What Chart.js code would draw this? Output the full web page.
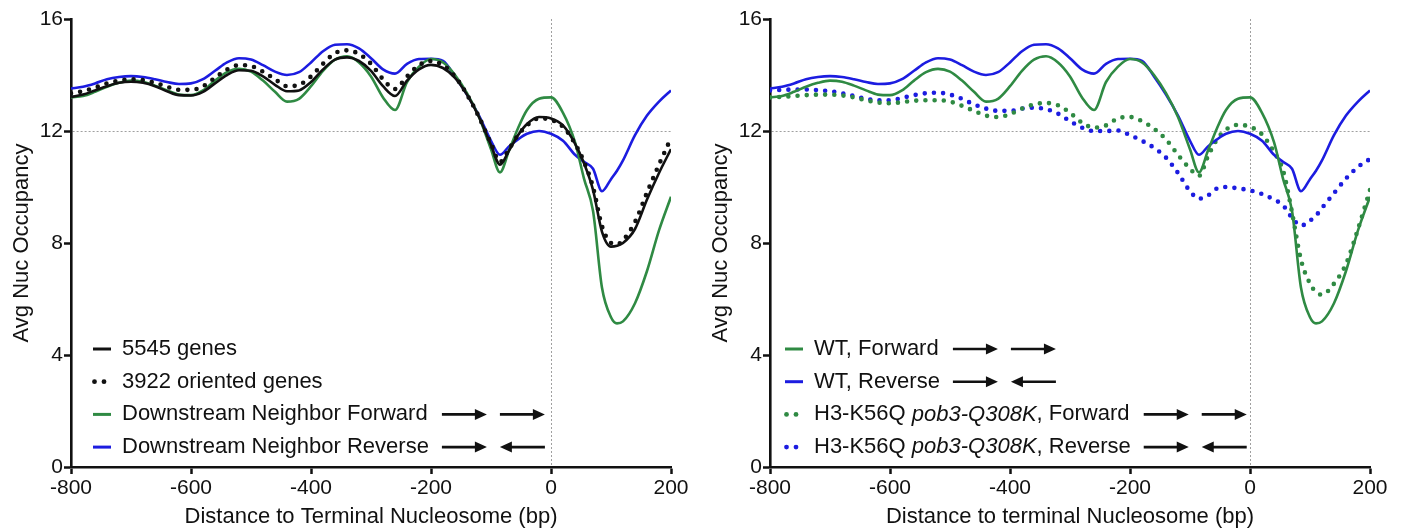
<!DOCTYPE html>
<html>
<head>
<meta charset="utf-8">
<script src="https://cdn.jsdelivr.net/npm/chart.js@4.4.0/dist/chart.umd.min.js"></script>
<style>
  html, body { margin: 0; padding: 0; background: #fff; }
  body { width: 1403px; height: 531px; position: relative; overflow: hidden; }
  canvas { position: absolute; top: 0; }
  #leftChart { left: 0; }
  #rightChart { left: 699px; }
</style>
</head>
<body>
<canvas id="leftChart" width="700" height="531"></canvas>
<canvas id="rightChart" width="700" height="531"></canvas>
<script>
/* ================= DATA ================= */

const distances = [
  -800, -780, -760, -740, -720, -700, -680, -660, -640, -620,
  -600, -580, -560, -540, -520, -500, -480, -460, -440, -420,
  -400, -380, -360, -340, -320, -300, -280, -260, -240, -220,
  -200, -180, -160, -140, -120, -100, -85, -70, -55, -40,
  -20, 0, 20, 40, 55, 70, 85, 100, 110, 120,
  140, 160, 180, 200
];

// 5545 genes (black solid)
const allGenes = [
  13.22, 13.3, 13.45, 13.6, 13.72, 13.76, 13.72, 13.6, 13.42, 13.28,
  13.27, 13.4, 13.7, 14.0, 14.17, 14.15, 13.95, 13.65, 13.42, 13.45,
  13.75, 14.2, 14.55, 14.63, 14.5, 14.15, 13.6, 13.25, 13.8, 14.2,
  14.36, 14.25, 13.9, 13.3, 12.5, 11.5, 10.8, 11.3, 11.85, 12.25,
  12.5, 12.45, 12.2, 11.55, 10.85, 9.9, 8.4, 7.87, 7.9, 8.0,
  8.5, 9.55, 10.5, 11.35
];

// 3922 oriented genes (black dotted)
const orientedGenes = [
  13.35, 13.42, 13.55, 13.7, 13.8, 13.85, 13.82, 13.72, 13.58, 13.47,
  13.47, 13.6, 13.9, 14.2, 14.35, 14.32, 14.12, 13.85, 13.6, 13.65,
  13.95, 14.4, 14.78, 14.88, 14.75, 14.4, 13.85, 13.5, 13.95, 14.35,
  14.5, 14.35, 13.95, 13.3, 12.5, 11.55, 10.9, 11.35, 11.85, 12.2,
  12.45, 12.4, 12.15, 11.55, 10.9, 10.0, 8.6, 8.0, 7.95, 8.1,
  8.75, 9.8, 10.8, 11.75
];

// WT / downstream neighbor forward (green solid)
const wtForward = [
  13.2, 13.25, 13.4, 13.58, 13.72, 13.8, 13.76, 13.62, 13.45, 13.3,
  13.28, 13.45, 13.8, 14.1, 14.22, 14.12, 13.8, 13.4, 13.05, 13.15,
  13.6, 14.15, 14.55, 14.67, 14.45, 13.95, 13.2, 12.75, 13.75, 14.3,
  14.57, 14.45, 14.0, 13.35, 12.5, 11.35, 10.52, 11.3, 12.1, 12.75,
  13.15, 13.2, 12.65, 11.6, 10.3, 9.15, 6.4, 5.35, 5.13, 5.2,
  5.85, 7.0, 8.45, 9.65
];

// WT / downstream neighbor reverse (blue solid)
const wtReverse = [
  13.52, 13.58, 13.7, 13.85, 13.93, 13.96, 13.93, 13.85, 13.75, 13.68,
  13.7, 13.85, 14.15, 14.45, 14.6, 14.55, 14.35, 14.12, 14.0, 14.1,
  14.45, 14.85, 15.08, 15.1, 14.95, 14.6, 14.2, 14.05, 14.4, 14.57,
  14.58, 14.5, 13.95, 13.3, 12.55, 11.65, 11.15, 11.45, 11.7, 11.9,
  12.0, 11.9, 11.65, 11.15, 10.9, 10.65, 9.85, 10.28, 10.58, 10.95,
  11.85, 12.55, 13.05, 13.45
];

// H3-K56Q pob3-Q308K forward (green dotted)
const mutForward = [
  13.2, 13.22, 13.25, 13.28, 13.3, 13.3, 13.27, 13.2, 13.1, 13.02,
  12.99, 13.03, 13.08, 13.1, 13.1, 13.05, 12.9, 12.72, 12.55, 12.5,
  12.6, 12.8, 12.95, 13.0, 12.92, 12.65, 12.3, 12.12, 12.2, 12.45,
  12.5, 12.35, 12.08, 11.7, 11.15, 10.65, 10.4, 11.1, 11.7, 12.05,
  12.22, 12.15, 11.88, 11.25, 10.6, 9.1, 7.4, 6.55, 6.25, 6.15,
  6.55, 7.25, 8.5, 9.9
];

// H3-K56Q pob3-Q308K reverse (blue dotted)
const mutReverse = [
  13.45, 13.47, 13.48, 13.48, 13.46, 13.42, 13.35, 13.25, 13.15, 13.1,
  13.1, 13.18, 13.28, 13.35, 13.37, 13.3, 13.15, 12.95, 12.8, 12.72,
  12.72, 12.8, 12.83, 12.78, 12.62, 12.35, 12.12, 12.0, 12.0, 12.02,
  11.85, 11.65, 11.4, 11.05, 10.5, 9.85, 9.58, 9.7, 9.95, 10.0,
  9.95, 9.88, 9.75, 9.55, 9.35, 8.9, 8.62, 8.8, 8.98, 9.25,
  9.78, 10.3, 10.72, 11.0
];

const xTicks = [-800, -600, -400, -200, 0, 200];
const yTicks = [0, 4, 8, 12, 16];

const leftLabels = ["5545 genes", "3922 oriented genes", "Downstream Neighbor Forward", "Downstream Neighbor Reverse"];
const rightLabels = ["WT, Forward", "WT, Reverse", "H3-K56Q *pob3-Q308K*, Forward", "H3-K56Q *pob3-Q308K*, Reverse"];
const leftArrows = ["", "", "forward", "reverse"];
const rightArrows = ["forward", "reverse", "forward", "reverse"];

/* ================= STYLE ================= */

const FONT = "'Liberation Sans', Arial, Helvetica, sans-serif";
const INK = "#111";
const GREEN = "#2f8a43";
const BLUE = "#1c1ce0";

function series(values) {
  return values.map((v, i) => ({ x: distances[i], y: v }));
}

function solid(label, values, color) {
  return {
    label, data: series(values), borderColor: color, backgroundColor: color,
    borderWidth: 2.6, pointRadius: 0, cubicInterpolationMode: "monotone", fill: false
  };
}

function dotted(label, values, color) {
  return {
    label, data: series(values), borderColor: color, backgroundColor: color,
    borderWidth: 4.6, borderDash: [0, 9.2], borderCapStyle: "round", borderJoinStyle: "round",
    pointRadius: 0, cubicInterpolationMode: "monotone", fill: false, isDotted: true
  };
}

/* ================= LEGEND ================= */

function labelParts(text) {
  return text.split("*").map((t, i) => ({ t, italic: i % 2 === 1 }));
}

function setFont(ctx, italic) {
  ctx.font = (italic ? "italic " : "") + "22px " + FONT;
}

function labelWidth(ctx, text) {
  let w = 0;
  labelParts(text).forEach(p => { setFont(ctx, p.italic); w += ctx.measureText(p.t).width; });
  return w;
}

function drawArrow(ctx, x1, x2, y) {
  const dir = Math.sign(x2 - x1);
  ctx.beginPath();
  ctx.moveTo(x1, y);
  ctx.lineTo(x2 - dir * 8, y);
  ctx.lineWidth = 2.6;
  ctx.stroke();
  ctx.beginPath();
  ctx.moveTo(x2, y);
  ctx.lineTo(x2 - dir * 12, y - 5.5);
  ctx.lineTo(x2 - dir * 12, y + 5.5);
  ctx.closePath();
  ctx.fill();
}

const rowLegend = {
  id: "rowLegend",
  afterDraw(chart, args, opts) {
    const ctx = chart.ctx;
    const sets = chart.data.datasets;
    ctx.save();
    ctx.textBaseline = "middle";
    const widths = sets.map(ds => labelWidth(ctx, ds.label));

    sets.forEach((ds, i) => {
      const y = opts.top + i * opts.step;
      ctx.strokeStyle = ds.borderColor;
      ctx.fillStyle = ds.borderColor;

      if (ds.isDotted) {
        [1.5, 11].forEach(dx => {
          ctx.beginPath();
          ctx.arc(opts.x + dx, y, 2.4, 0, Math.PI * 2);
          ctx.fill();
        });
      } else {
        ctx.beginPath();
        ctx.moveTo(opts.x, y);
        ctx.lineTo(opts.x + 18, y);
        ctx.lineWidth = 3;
        ctx.stroke();
      }

      // text, with italic runs
      let tx = opts.x + 29;
      ctx.fillStyle = INK;
      labelParts(ds.label).forEach(p => {
        setFont(ctx, p.italic);
        ctx.fillText(p.t, tx, y);
        tx += ctx.measureText(p.t).width;
      });

      const dir = opts.arrows[i];
      if (dir) {
        const start = opts.x + 29 + Math.max(widths[i], widths[i ^ 1]) + 13;
        ctx.strokeStyle = INK;
        ctx.fillStyle = INK;
        drawArrow(ctx, start, start + 45, y);
        if (dir === "forward") drawArrow(ctx, start + 58, start + 103, y);
        else drawArrow(ctx, start + 103, start + 58, y);
      }
    });
    ctx.restore();
  }
};

/* ================= CHARTS ================= */

function axisFont(size) {
  return { family: FONT, size };
}

function makeChart(id, datasets, xTitle, legendX, arrows) {
  return new Chart(document.getElementById(id), {
    type: "line",
    data: { datasets },
    plugins: [rowLegend],
    options: {
      responsive: false,
      animation: false,
      devicePixelRatio: 1,
      layout: { padding: { top: 19, right: 29, left: 0, bottom: 0 } },
      plugins: {
        legend: { display: false },
        tooltip: { enabled: false },
        rowLegend: { x: legendX, top: 349, step: 32.7, arrows }
      },
      scales: {
        x: {
          type: "linear",
          min: -800,
          max: 200,
          afterBuildTicks: s => { s.ticks = xTicks.map(v => ({ value: v })); },
          afterFit: s => { s.height = 64; },
          ticks: { font: axisFont(21), color: INK, padding: 2, maxRotation: 0, autoSkip: false },
          grid: {
            color: c => (c.tick && c.tick.value === 0 ? "#a0a0a0" : "rgba(0,0,0,0)"),
            lineWidth: 1,
            tickLength: 7,
            tickWidth: 2.5,
            tickColor: INK
          },
          border: { color: INK, width: 2.6, dash: [2, 2] },
          title: { display: true, text: xTitle, font: axisFont(22), color: INK, padding: { top: 0, bottom: 1 } }
        },
        y: {
          min: 0,
          max: 16,
          afterBuildTicks: s => { s.ticks = yTicks.map(v => ({ value: v })); },
          afterFit: s => { s.width = 71; },
          ticks: { font: axisFont(21), color: INK, padding: 1 },
          grid: {
            color: c => (c.tick && c.tick.value === 12 ? "#a0a0a0" : "rgba(0,0,0,0)"),
            lineWidth: 1,
            tickLength: 7,
            tickWidth: 2.5,
            tickColor: INK
          },
          border: { color: INK, width: 2.6, dash: [2, 2] },
          title: { display: true, text: "Avg Nuc Occupancy", font: axisFont(22), color: INK, padding: { top: 9, bottom: 0 } }
        }
      }
    }
  });
}

makeChart("leftChart", [
  solid(leftLabels[0], allGenes, INK),
  dotted(leftLabels[1], orientedGenes, INK),
  solid(leftLabels[2], wtForward, GREEN),
  solid(leftLabels[3], wtReverse, BLUE)
], "Distance to Terminal Nucleosome (bp)", 93, leftArrows);

makeChart("rightChart", [
  solid(rightLabels[0], wtForward, GREEN),
  solid(rightLabels[1], wtReverse, BLUE),
  dotted(rightLabels[2], mutForward, GREEN),
  dotted(rightLabels[3], mutReverse, BLUE)
], "Distance to terminal Nucleosome (bp)", 86, rightArrows);
</script>
</body>
</html>
